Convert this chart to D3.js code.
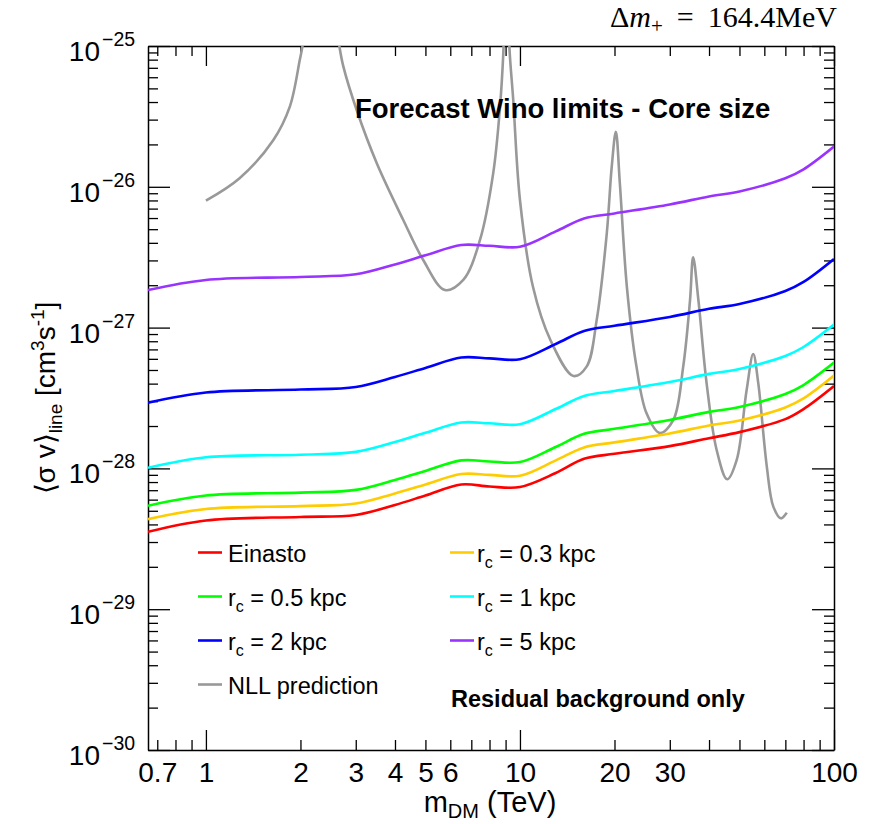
<!DOCTYPE html>
<html>
<head>
<meta charset="utf-8">
<script src="https://cdn.jsdelivr.net/npm/d3@7"></script>
<style>
body { margin: 0; background: #fff; }
text { font-family: "Liberation Sans", Arial, Helvetica, sans-serif; }
</style>
</head>
<body>
<div id="chart"></div>
<script>
// dark matter mass grid (TeV) for the forecast limit curves
var mass = [0.654, 1, 2, 3, 4, 5, 6.5, 8, 10, 13, 16, 20, 30, 40, 50, 70, 80, 100];

var einasto = [3.55e-29, 4.27e-29, 4.52e-29, 4.67e-29, 5.50e-29, 6.42e-29, 7.69e-29, 7.44e-29, 7.38e-29, 9.28e-29, 1.17e-28, 1.27e-28, 1.44e-28, 1.64e-28, 1.81e-28, 2.24e-28, 2.64e-28, 3.85e-28];
var rc03 = [4.36e-29, 5.15e-29, 5.40e-29, 5.64e-29, 6.64e-29, 7.69e-29, 9.12e-29, 9.00e-29, 8.87e-29, 1.14e-28, 1.41e-28, 1.53e-28, 1.77e-28, 2.02e-28, 2.19e-28, 2.71e-28, 3.14e-28, 4.56e-28];
var rc05 = [5.43e-29, 6.42e-29, 6.73e-29, 7.04e-29, 8.28e-29, 9.59e-29, 1.14e-28, 1.12e-28, 1.11e-28, 1.42e-28, 1.76e-28, 1.91e-28, 2.21e-28, 2.52e-28, 2.73e-28, 3.38e-28, 3.91e-28, 5.64e-28];
var rc1 = [1.01e-28, 1.20e-28, 1.25e-28, 1.31e-28, 1.54e-28, 1.79e-28, 2.12e-28, 2.09e-28, 2.06e-28, 2.64e-28, 3.27e-28, 3.55e-28, 4.11e-28, 4.69e-28, 5.08e-28, 6.29e-28, 7.28e-28, 1.05e-27];
var rc2 = [2.93e-28, 3.46e-28, 3.63e-28, 3.79e-28, 4.46e-28, 5.17e-28, 6.13e-28, 6.05e-28, 5.96e-28, 7.65e-28, 9.46e-28, 1.03e-27, 1.19e-27, 1.36e-27, 1.47e-27, 1.82e-27, 2.11e-27, 3.07e-27];
var rc5 = [1.85e-27, 2.18e-27, 2.29e-27, 2.39e-27, 2.81e-27, 3.26e-27, 3.86e-27, 3.81e-27, 3.75e-27, 4.82e-27, 5.96e-27, 6.47e-27, 7.49e-27, 8.54e-27, 9.27e-27, 1.15e-26, 1.33e-26, 1.93e-26];

// NLL prediction (resonances)
var nllMass = [1.0, 1.28, 1.64, 1.85, 1.99, 2.03, 2.34, 2.66, 2.74, 3.02, 3.50, 4.25, 4.92, 5.77, 6.60, 7.46, 8.22, 8.64, 8.85, 9.07, 9.25, 9.52, 10.0, 11.0, 12.5, 14.8, 16.3, 17.55, 18.9, 19.6, 20.2, 20.8, 21.9, 23.5, 25.3, 27.9, 30.8, 33.1, 34.8, 35.6, 37.0, 39.3, 42.3, 45.7, 49.0, 52.7, 55.3, 57.4, 61.1, 64.1, 67.8, 70.7];
var nllSigma = [7.97e-27, 1.15e-26, 2.15e-26, 3.71e-26, 7.95e-26, 1.0e-25, 1.0e-24, 1.0e-25, 7.13e-26, 3.51e-26, 1.47e-26, 5.81e-27, 3.02e-27, 1.85e-27, 2.18e-27, 4.19e-27, 1.25e-26, 3.71e-26, 8.87e-26, 5.0e-25, 1.0e-25, 4.13e-26, 8.06e-27, 1.95e-27, 8.17e-28, 4.53e-28, 5.28e-28, 1.13e-27, 4.67e-27, 1.39e-26, 2.46e-26, 1.06e-26, 1.95e-27, 5.28e-28, 2.46e-28, 1.78e-28, 2.21e-28, 5.28e-28, 1.57e-27, 3.16e-27, 1.57e-27, 4.02e-28, 1.35e-28, 8.37e-29, 1.15e-28, 3.60e-28, 6.49e-28, 4.02e-28, 1.03e-28, 5.35e-29, 4.42e-29, 4.85e-29];

// axis ticks
var xTicks = [0.7, 0.8, 0.9, 1, 2, 3, 4, 5, 6, 7, 8, 9, 10, 20, 30, 40, 50, 60, 70, 80, 90, 100];
var xMajor = [1, 10, 100];
var xLabels = [0.7, 1, 2, 3, 4, 5, 6, 10, 20, 30, 100];
var yExponents = [-30, -29, -28, -27, -26, -25];
var yMantissas = [2, 3, 4, 5, 6, 7, 8, 9];

var W = 875, H = 824;
var plotL = 148, plotR = 834, plotT = 46, plotB = 750;

var svg = d3.select("#chart").append("svg")
	.attr("width", W)
	.attr("height", H);

var x = d3.scaleLog().domain([0.654, 100]).range([plotL, plotR]);
var y = d3.scaleLog().domain([1e-30, 1e-25]).range([plotB, plotT]);

var yTicks = [];
var yMajor = [];
yExponents.forEach(function(e){
	yMajor.push(Math.pow(10, e));
	yTicks.push(Math.pow(10, e));
	if (e < -25) {
		yMantissas.forEach(function(m){ yTicks.push(m * Math.pow(10, e)); });
	}
});
function isMajorY(d){
	return yMajor.some(function(v){ return Math.abs(d / v - 1) < 1e-6; });
}

svg.append("clipPath").attr("id", "plotclip")
	.append("rect")
	.attr("x", plotL).attr("y", plotT)
	.attr("width", plotR - plotL).attr("height", plotB - plotT);

// axes (ROOT style, ticks inside)
var xb = svg.append("g").attr("transform", "translate(0," + plotB + ")")
	.call(d3.axisBottom(x).tickValues(xTicks).tickSizeInner(-10).tickSizeOuter(0).tickPadding(12)
		.tickFormat(function(d){ return xLabels.indexOf(d) >= 0 ? d : ""; }));
xb.selectAll(".tick line").attr("y2", function(d){ return xMajor.indexOf(d) >= 0 ? -20 : -10; });
xb.selectAll(".tick text").attr("font-size", 28).attr("fill", "#000");

var xt = svg.append("g").attr("transform", "translate(0," + plotT + ")")
	.call(d3.axisTop(x).tickValues(xTicks).tickSizeInner(-10).tickSizeOuter(0).tickFormat(""));
xt.selectAll(".tick line").attr("y2", function(d){ return xMajor.indexOf(d) >= 0 ? 20 : 10; });

var yl = svg.append("g").attr("transform", "translate(" + plotL + ",0)")
	.call(d3.axisLeft(y).tickValues(yTicks).tickSizeInner(-10).tickSizeOuter(0).tickFormat(""));
yl.selectAll(".tick line").attr("x2", function(d){ return isMajorY(d) ? 22 : 10; });

var yr = svg.append("g").attr("transform", "translate(" + plotR + ",0)")
	.call(d3.axisRight(y).tickValues(yTicks).tickSizeInner(-10).tickSizeOuter(0).tickFormat(""));
yr.selectAll(".tick line").attr("x2", function(d){ return isMajorY(d) ? -22 : -10; });

svg.selectAll(".domain").attr("stroke", "#000").attr("stroke-width", 1.5);
svg.selectAll(".tick line").attr("stroke", "#000").attr("stroke-width", 1.3);

// y tick labels 10^n
yExponents.forEach(function(e){
	var py = y(Math.pow(10, e));
	svg.append("text").attr("x", 100).attr("y", py + 15)
		.attr("text-anchor", "end").attr("font-size", 28).text("10");
	svg.append("text").attr("x", 102).attr("y", py)
		.attr("font-size", 19.5).text("\u2212" + Math.abs(e));
});

// curves
var line = d3.line()
	.x(function(d){ return x(d[0]); })
	.y(function(d){ return y(d[1]); })
	.curve(d3.curveCatmullRom.alpha(0.5));

var plot = svg.append("g").attr("clip-path", "url(#plotclip)");

var series = [
	{ name: "Einasto", vals: einasto, color: "#ff0000" },
	{ name: "0.3", vals: rc03, color: "#ffcc00" },
	{ name: "0.5", vals: rc05, color: "#00ff00" },
	{ name: "1", vals: rc1, color: "#00ffff" },
	{ name: "2", vals: rc2, color: "#0000ff" },
	{ name: "5", vals: rc5, color: "#9933ff" }
];

plot.append("path")
	.datum(nllMass.map(function(m, i){ return [m, nllSigma[i]]; }))
	.attr("fill", "none")
	.attr("stroke", "#999999")
	.attr("stroke-width", 2.6)
	.attr("d", line);

series.forEach(function(s){
	plot.append("path")
		.datum(mass.map(function(m, i){ return [m, s.vals[i]]; }))
		.attr("fill", "none")
		.attr("stroke", s.color)
		.attr("stroke-width", 2.6)
		.attr("d", line);
});

// legend
var legend = [
	{ col: 0, row: 0, color: "#ff0000", label: "Einasto" },
	{ col: 1, row: 0, color: "#ffcc00", rc: "0.3" },
	{ col: 0, row: 1, color: "#00ff00", rc: "0.5" },
	{ col: 1, row: 1, color: "#00ffff", rc: "1" },
	{ col: 0, row: 2, color: "#0000ff", rc: "2" },
	{ col: 1, row: 2, color: "#9933ff", rc: "5" },
	{ col: 0, row: 3, color: "#999999", label: "NLL prediction" }
];
legend.forEach(function(l){
	var lx = l.col === 0 ? 198 : 450;
	var tx = l.col === 0 ? 228 : 477;
	var base = 562 + l.row * 44;
	svg.append("line")
		.attr("x1", lx).attr("x2", lx + 24)
		.attr("y1", base - 9.5).attr("y2", base - 9.5)
		.attr("stroke", l.color).attr("stroke-width", 2.6);
	var t = svg.append("text").attr("x", tx).attr("y", base).attr("font-size", 23.5);
	if (l.label) {
		t.text(l.label);
	} else {
		t.append("tspan").text("r");
		t.append("tspan").attr("font-size", 16).attr("dy", 6).text("c");
		t.append("tspan").attr("dy", -6).text(" = " + l.rc + " kpc");
	}
});

// titles
svg.append("text").attr("x", 355).attr("y", 118)
	.attr("font-size", 27.5).attr("font-weight", "bold")
	.text("Forecast Wino limits - Core size");

svg.append("text").attr("x", 451).attr("y", 707)
	.attr("font-size", 23.5).attr("font-weight", "bold")
	.text("Residual background only");

var dm = svg.append("text").attr("x", 610).attr("y", 27)
	.attr("font-size", 30)
	.style("font-family", "'Liberation Serif', 'DejaVu Serif', serif");
dm.append("tspan").text("\u0394");
dm.append("tspan").attr("font-style", "italic").text("m");
dm.append("tspan").attr("font-size", 21).attr("dy", 6).text("+");
dm.append("tspan").attr("dy", -6).attr("dx", 14).text("=");
dm.append("tspan").attr("dx", 14).text("164.4MeV");

// axis titles
var xtitle = svg.append("text").attr("x", 490).attr("y", 812)
	.attr("text-anchor", "middle").attr("font-size", 29);
xtitle.append("tspan").text("m");
xtitle.append("tspan").attr("font-size", 20).attr("dy", 6).text("DM");
xtitle.append("tspan").attr("dy", -6).text(" (TeV)");

var ytitle = svg.append("text")
	.attr("transform", "translate(55,398) rotate(-90)")
	.attr("text-anchor", "middle").attr("font-size", 28);
ytitle.append("tspan").text("\u27E8\u03C3 v\u27E9");
ytitle.append("tspan").attr("font-size", 19).attr("dy", 7).text("line");
ytitle.append("tspan").attr("dy", -7).text(" [cm");
ytitle.append("tspan").attr("font-size", 19).attr("dy", -11).text("3");
ytitle.append("tspan").attr("dy", 11).text("s");
ytitle.append("tspan").attr("font-size", 19).attr("dy", -11).text("-1");
ytitle.append("tspan").attr("dy", 11).text("]");
</script>
</body>
</html>
